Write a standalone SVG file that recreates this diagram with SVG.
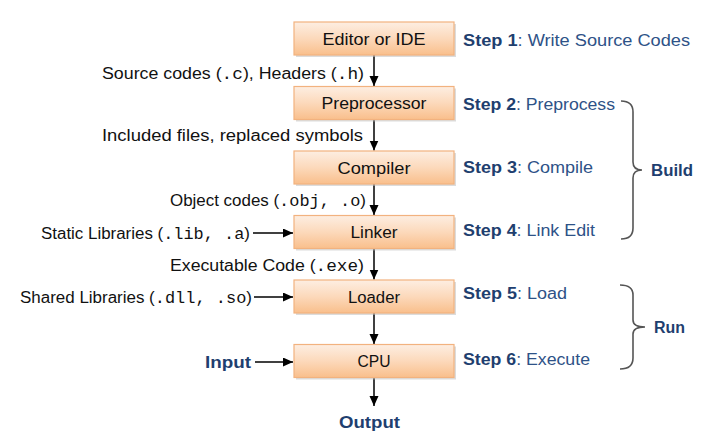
<svg xmlns="http://www.w3.org/2000/svg" width="716" height="439" viewBox="0 0 716 439">
<style>
text{font-family:"Liberation Sans",Arial,sans-serif;font-size:16px;fill:#111}
.box{fill:url(#g);stroke:#f2b27f;stroke-width:1.2}
.sh{fill:#bfbfbf;opacity:0.55}
.bt{text-anchor:middle}
.mono{font-family:"Liberation Mono","DejaVu Sans Mono",monospace}
.step{fill:#2e5287}
.sb{font-weight:bold;fill:#1f3f6f}
.blue{font-weight:bold;fill:#1f3f6f}
.ln{stroke:#000;stroke-width:1.5;fill:none}
.br{stroke:#555;stroke-width:1.6;fill:none}
</style>
<defs>
<linearGradient id="g" x1="0" y1="0" x2="0" y2="1">
<stop offset="0" stop-color="#fdeee2"/>
<stop offset="0.5" stop-color="#fcd9bb"/>
<stop offset="1" stop-color="#f9bf8c"/>
</linearGradient>
<marker id="ah" markerUnits="userSpaceOnUse" markerWidth="10" markerHeight="10" refX="10" refY="4.5" orient="auto">
<path d="M0,0 L10,4.5 L0,9 z" fill="#000"/>
</marker>
</defs>

<g id="connectors">
<line class="ln" x1="374" y1="55" x2="374" y2="86" marker-end="url(#ah)"/>
<line class="ln" x1="374" y1="119.5" x2="374" y2="150.5" marker-end="url(#ah)"/>
<line class="ln" x1="374" y1="184" x2="374" y2="215" marker-end="url(#ah)"/>
<line class="ln" x1="374" y1="248.5" x2="374" y2="279.5" marker-end="url(#ah)"/>
<line class="ln" x1="374" y1="313" x2="374" y2="344" marker-end="url(#ah)"/>
<line class="ln" x1="374" y1="377.5" x2="374" y2="406" marker-end="url(#ah)"/>
<line class="ln" x1="253" y1="233" x2="293" y2="233" marker-end="url(#ah)"/>
<line class="ln" x1="254" y1="297" x2="293" y2="297" marker-end="url(#ah)"/>
<line class="ln" x1="255" y1="362" x2="293" y2="362" marker-end="url(#ah)"/>
</g>

<g id="editor">
<rect class="sh" x="296" y="24" width="160" height="33"/>
<rect class="box" x="294" y="22" width="160" height="33"/>
<text class="bt" x="374" y="44.5" textLength="103" lengthAdjust="spacingAndGlyphs">Editor or IDE</text>
</g>
<g id="preprocessor">
<rect class="sh" x="296" y="88.5" width="160" height="33"/>
<rect class="box" x="294" y="86.5" width="160" height="33"/>
<text class="bt" x="374" y="109" textLength="105" lengthAdjust="spacingAndGlyphs">Preprocessor</text>
</g>
<g id="compiler">
<rect class="sh" x="296" y="153" width="160" height="33"/>
<rect class="box" x="294" y="151" width="160" height="33"/>
<text class="bt" x="374" y="173.5" textLength="73" lengthAdjust="spacingAndGlyphs">Compiler</text>
</g>
<g id="linker">
<rect class="sh" x="296" y="217.5" width="160" height="33"/>
<rect class="box" x="294" y="215.5" width="160" height="33"/>
<text class="bt" x="374" y="238" textLength="47" lengthAdjust="spacingAndGlyphs">Linker</text>
</g>
<g id="loader">
<rect class="sh" x="296" y="282" width="160" height="33"/>
<rect class="box" x="294" y="280" width="160" height="33"/>
<text class="bt" x="374" y="302.5" textLength="52" lengthAdjust="spacingAndGlyphs">Loader</text>
</g>
<g id="cpu">
<rect class="sh" x="296" y="346.5" width="160" height="33"/>
<rect class="box" x="294" y="344.5" width="160" height="33"/>
<text class="bt" x="374" y="367" textLength="33" lengthAdjust="spacingAndGlyphs">CPU</text>
</g>

<g id="labels">
<text x="102" y="79" textLength="262" lengthAdjust="spacingAndGlyphs">Source codes (<tspan class="mono">.c</tspan>), Headers (<tspan class="mono">.h</tspan>)</text>
<text x="102" y="141" textLength="261" lengthAdjust="spacingAndGlyphs">Included files, replaced symbols</text>
<text x="170" y="206" textLength="196" lengthAdjust="spacingAndGlyphs">Object codes (<tspan class="mono">.obj, .o</tspan>)</text>
<text x="41" y="239" textLength="209" lengthAdjust="spacingAndGlyphs">Static Libraries (<tspan class="mono">.lib, .a</tspan>)</text>
<text x="170" y="271" textLength="194" lengthAdjust="spacingAndGlyphs">Executable Code (<tspan class="mono">.exe</tspan>)</text>
<text x="20" y="303" textLength="232" lengthAdjust="spacingAndGlyphs">Shared Libraries (<tspan class="mono">.dll, .so</tspan>)</text>
<text id="input" class="blue" x="205" y="368" textLength="46" lengthAdjust="spacingAndGlyphs">Input</text>
<text id="output" class="blue" x="339" y="428" textLength="61" lengthAdjust="spacingAndGlyphs">Output</text>
</g>

<g id="steps">
<text class="step" x="463" y="46" textLength="227" lengthAdjust="spacingAndGlyphs"><tspan class="sb">Step 1</tspan>: Write Source Codes</text>
<text class="step" x="463" y="110" textLength="152" lengthAdjust="spacingAndGlyphs"><tspan class="sb">Step 2</tspan>: Preprocess</text>
<text class="step" x="463" y="173" textLength="130" lengthAdjust="spacingAndGlyphs"><tspan class="sb">Step 3</tspan>: Compile</text>
<text class="step" x="463" y="236" textLength="132" lengthAdjust="spacingAndGlyphs"><tspan class="sb">Step 4</tspan>: Link Edit</text>
<text class="step" x="463" y="299" textLength="104" lengthAdjust="spacingAndGlyphs"><tspan class="sb">Step 5</tspan>: Load</text>
<text class="step" x="463" y="365" textLength="127" lengthAdjust="spacingAndGlyphs"><tspan class="sb">Step 6</tspan>: Execute</text>
</g>

<g id="build">
<path class="br" d="M621,101 Q633,101 633,112 L633,162 Q633,170 642,170 Q633,170 633,178 L633,228 Q633,239 621,239"/>
<text class="blue" x="651" y="176" textLength="42" lengthAdjust="spacingAndGlyphs">Build</text>
</g>
<g id="run">
<path class="br" d="M620,285 Q633,285 633,295 L633,320 Q633,327 645,327 Q633,327 633,334 L633,358 Q633,369 620,369"/>
<text class="blue" x="654" y="333" textLength="31" lengthAdjust="spacingAndGlyphs">Run</text>
</g>
</svg>
